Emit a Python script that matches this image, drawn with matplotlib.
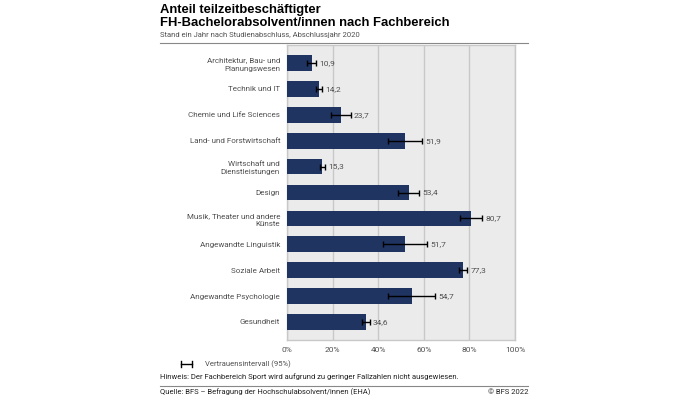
import matplotlib.pyplot as plt
from matplotlib.lines import Line2D
import matplotlib
matplotlib.rcParams['font.family'] = ['Roboto', 'DejaVu Sans']

# Daten
kategorien = [
    "Architektur, Bau- und\nPlanungswesen",
    "Technik und IT",
    "Chemie und Life Sciences",
    "Land- und Forstwirtschaft",
    "Wirtschaft und\nDienstleistungen",
    "Design",
    "Musik, Theater und andere\nKünste",
    "Angewandte Linguistik",
    "Soziale Arbeit",
    "Angewandte Psychologie",
    "Gesundheit",
]
werte = [10.9, 14.2, 23.7, 51.9, 15.3, 53.4, 80.7, 51.7, 77.3, 54.7, 34.6]
ki_unten = [8.8, 12.8, 19.4, 44.2, 14.3, 48.9, 75.8, 41.9, 75.5, 44.2, 32.8]
ki_oben = [12.8, 15.3, 27.9, 59.3, 16.5, 57.7, 85.4, 61.3, 79.0, 65.0, 36.2]
x_ticks = [0, 20, 40, 60, 80, 100]

BAR = "#1f3461"
GREY_TXT = "#505050"

fig = plt.figure(figsize=(6.95, 3.95), dpi=100)
ax = fig.add_axes([287 / 695, 1 - 340 / 395, 228 / 695, 295 / 395])

y = list(range(len(kategorien)))
err_lo = [w - u for w, u in zip(werte, ki_unten)]
err_hi = [o - w for w, o in zip(werte, ki_oben)]

ax.barh(y, werte, height=0.6, color=BAR, zorder=3)
ax.errorbar(werte, y, xerr=[err_lo, err_hi], fmt="none", ecolor="black",
            elinewidth=1.0, capsize=2.5, capthick=1.0, zorder=4)
for yi, o, w in zip(y, ki_oben, werte):
    ax.text(o + 1.5, yi, f"{w:.1f}".replace(".", ","), va="center",
            ha="left", fontsize=6, color=GREY_TXT, zorder=5)

ax.set_xlim(0, 100)
ax.set_ylim(len(kategorien) - 0.3, -0.7)
ax.set_yticks(y)
ax.set_yticklabels(kategorien, fontsize=5.8, color=GREY_TXT, linespacing=1.45)
ax.set_xticks(x_ticks)
ax.set_xticklabels([f"{t}%" for t in x_ticks], fontsize=6, color=GREY_TXT)
ax.tick_params(axis="both", length=0, pad=5)
ax.set_facecolor("#ebebeb")
ax.grid(axis="x", color="#c8c8c8", linewidth=1.0, zorder=0)
for s in ax.spines.values():
    s.set_color("#c8c8c8")
    s.set_linewidth(1.0)

# Titel
titel_font = ['Liberation Sans', 'DejaVu Sans']
fig.text(160 / 695, 1 - 10 / 395, "Anteil teilzeitbeschäftigter", family=titel_font,
         fontsize=9.4, fontweight="bold", va="center", ha="left", color="black")
fig.text(160 / 695, 1 - 23 / 395, "FH-Bachelorabsolvent/innen nach Fachbereich",
         family=titel_font, fontsize=9.4, fontweight="bold", va="center",
         ha="left", color="black")
fig.text(160 / 695, 1 - 35 / 395, "Stand ein Jahr nach Studienabschluss, Abschlussjahr 2020",
         fontsize=5.5, va="center", ha="left", color=GREY_TXT)
fig.add_artist(Line2D([160 / 695, 528 / 695], [1 - 43 / 395] * 2,
                      color="#888888", linewidth=0.8))

# Legende
fig.add_artist(Line2D([181 / 695, 192 / 695], [1 - 364 / 395] * 2,
                      color="black", linewidth=1.0))
for xx in (181, 192):
    fig.add_artist(Line2D([xx / 695] * 2, [1 - 361 / 395, 1 - 367 / 395],
                          color="black", linewidth=1.0))
fig.text(205 / 695, 1 - 364 / 395, "Vertrauensintervall (95%)",
         fontsize=5.5, va="center", ha="left", color=GREY_TXT)
fig.text(160 / 695, 1 - 377 / 395,
         "Hinweis: Der Fachbereich Sport wird aufgrund zu geringer Fallzahlen nicht ausgewiesen.",
         fontsize=5.5, va="center", ha="left", color="#222222")
fig.add_artist(Line2D([160 / 695, 528 / 695], [1 - 386 / 395] * 2,
                      color="#888888", linewidth=0.8))
fig.text(160 / 695, 1 - 392 / 395,
         "Quelle: BFS – Befragung der Hochschulabsolvent/innen (EHA)",
         fontsize=5.5, va="center", ha="left", color="#222222")
fig.text(528 / 695, 1 - 392 / 395, "© BFS 2022",
         fontsize=5.5, va="center", ha="right", color="#222222")

fig.savefig("out.png", dpi=100)
